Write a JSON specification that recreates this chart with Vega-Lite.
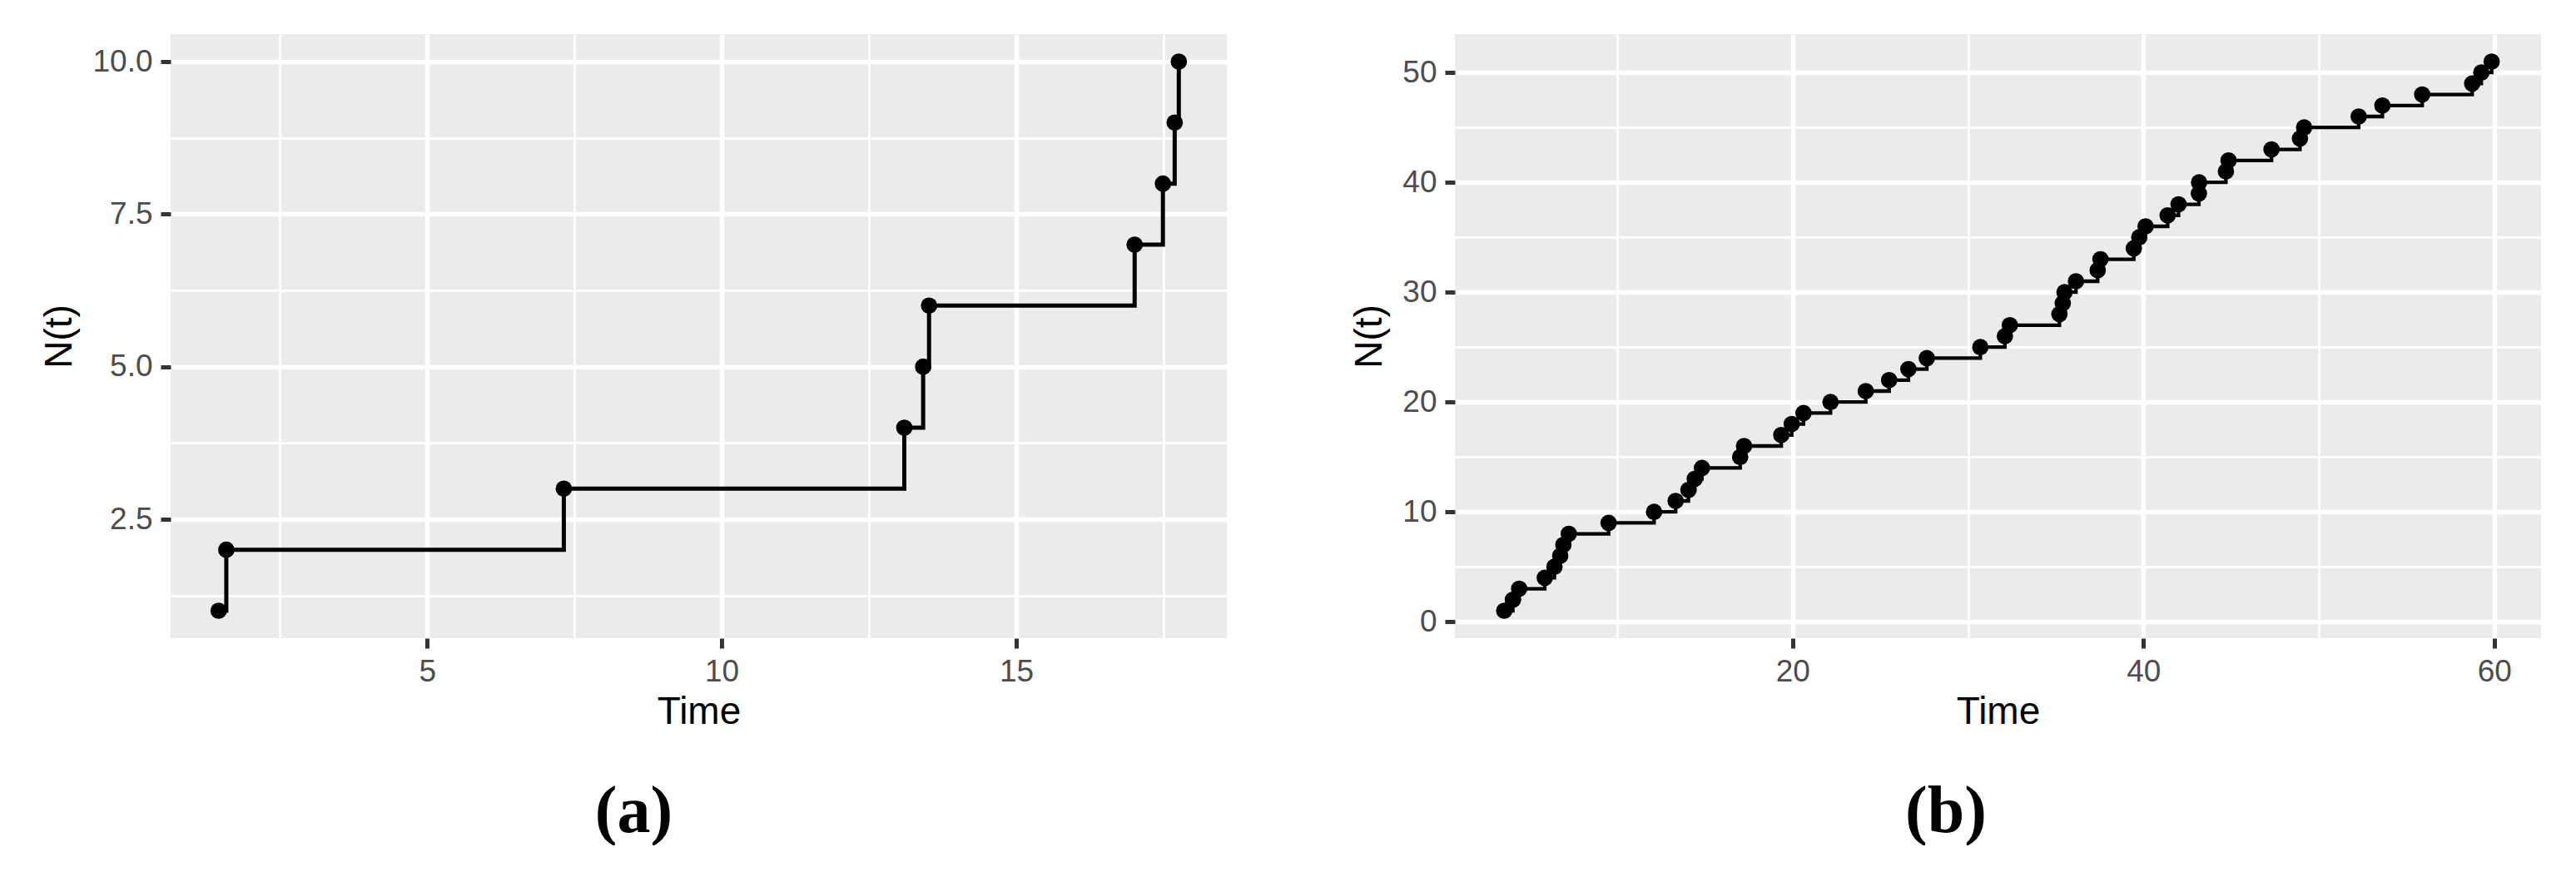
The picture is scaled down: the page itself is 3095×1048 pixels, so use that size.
{
  "$schema": "https://vega.github.io/schema/vega-lite/v6.json",
  "padding": {"left": 48, "top": 41, "right": 0, "bottom": 0},
  "background": "white",
  "datasets": {
    "a": [
      {"t": 1.46, "n": 1}, {"t": 1.59, "n": 2}, {"t": 7.32, "n": 3}, {"t": 13.10, "n": 4},
      {"t": 13.42, "n": 5}, {"t": 13.52, "n": 6}, {"t": 17.01, "n": 7}, {"t": 17.49, "n": 8},
      {"t": 17.69, "n": 9}, {"t": 17.76, "n": 10}
    ],
    "b": [
      {"t": 3.56, "n": 1}, {"t": 4.05, "n": 2}, {"t": 4.41, "n": 3}, {"t": 5.87, "n": 4},
      {"t": 6.42, "n": 5}, {"t": 6.75, "n": 6}, {"t": 6.93, "n": 7}, {"t": 7.24, "n": 8},
      {"t": 9.51, "n": 9}, {"t": 12.1, "n": 10}, {"t": 13.33, "n": 11}, {"t": 14.06, "n": 12},
      {"t": 14.42, "n": 13}, {"t": 14.83, "n": 14}, {"t": 17.01, "n": 15}, {"t": 17.23, "n": 16},
      {"t": 19.35, "n": 17}, {"t": 19.95, "n": 18}, {"t": 20.62, "n": 19}, {"t": 22.16, "n": 20},
      {"t": 24.17, "n": 21}, {"t": 25.5, "n": 22}, {"t": 26.6, "n": 23}, {"t": 27.65, "n": 24},
      {"t": 30.7, "n": 25}, {"t": 32.1, "n": 26}, {"t": 32.38, "n": 27}, {"t": 35.21, "n": 28},
      {"t": 35.4, "n": 29}, {"t": 35.5, "n": 30}, {"t": 36.15, "n": 31}, {"t": 37.39, "n": 32},
      {"t": 37.55, "n": 33}, {"t": 39.45, "n": 34}, {"t": 39.76, "n": 35}, {"t": 40.12, "n": 36},
      {"t": 41.38, "n": 37}, {"t": 42.0, "n": 38}, {"t": 43.16, "n": 39}, {"t": 43.17, "n": 40},
      {"t": 44.7, "n": 41}, {"t": 44.85, "n": 42}, {"t": 47.3, "n": 43}, {"t": 48.92, "n": 44},
      {"t": 49.16, "n": 45}, {"t": 52.27, "n": 46}, {"t": 53.62, "n": 47}, {"t": 55.89, "n": 48},
      {"t": 58.74, "n": 49}, {"t": 59.26, "n": 50}, {"t": 59.85, "n": 51}
    ]
  },
  "spacing": 148,
  "hconcat": [
    {
      "width": 1269,
      "height": 726,
      "data": {"name": "a"},
      "title": {"text": "(a)", "orient": "bottom", "anchor": "middle", "frame": "bounds", "font": "Liberation Serif", "fontSize": 80, "fontWeight": "bold", "color": "black", "offset": 59},
      "encoding": {
        "x": {
          "field": "t", "type": "quantitative",
          "scale": {"domain": [0.645, 18.575], "nice": false, "zero": false},
          "axis": {
            "title": "Time",
            "values": [2.5, 5, 7.5, 10, 12.5, 15, 17.5],
            "format": "d",
            "labelExpr": "datum.value % 5 === 0 ? datum.label : ''",
            "gridWidth": {"condition": {"test": "datum.value % 5 === 0", "value": 5.5}, "value": 2.8},
            "tickOpacity": {"condition": {"test": "datum.value % 5 === 0", "value": 1}, "value": 0}
          }
        },
        "y": {
          "field": "n", "type": "quantitative",
          "scale": {"domain": [0.55, 10.45], "nice": false, "zero": false},
          "axis": {
            "title": "N(t)",
            "values": [1.25, 2.5, 3.75, 5, 6.25, 7.5, 8.75, 10],
            "format": ".1f",
            "labelExpr": "datum.value % 2.5 === 0 ? datum.label : ''",
            "gridWidth": {"condition": {"test": "datum.value % 2.5 === 0", "value": 5.5}, "value": 2.8},
            "tickOpacity": {"condition": {"test": "datum.value % 2.5 === 0", "value": 1}, "value": 0}
          }
        }
      },
      "layer": [
        {"mark": {"type": "line", "interpolate": "step-after", "color": "black", "strokeWidth": 5}},
        {"mark": {"type": "circle", "color": "black", "size": 390, "opacity": 1}}
      ]
    },
    {
      "width": 1305,
      "height": 726,
      "data": {"name": "b"},
      "title": {"text": "(b)", "orient": "bottom", "anchor": "middle", "frame": "bounds", "font": "Liberation Serif", "fontSize": 80, "fontWeight": "bold", "color": "black", "offset": 59},
      "encoding": {
        "x": {
          "field": "t", "type": "quantitative",
          "scale": {"domain": [0.745, 62.665], "nice": false, "zero": false},
          "axis": {
            "title": "Time",
            "values": [10, 20, 30, 40, 50, 60],
            "format": "d",
            "labelExpr": "datum.value % 20 === 0 ? datum.label : ''",
            "gridWidth": {"condition": {"test": "datum.value % 20 === 0", "value": 5.5}, "value": 2.8},
            "tickOpacity": {"condition": {"test": "datum.value % 20 === 0", "value": 1}, "value": 0}
          }
        },
        "y": {
          "field": "n", "type": "quantitative",
          "scale": {"domain": [-1.5, 53.5], "nice": false, "zero": false},
          "axis": {
            "title": "N(t)",
            "values": [0, 5, 10, 15, 20, 25, 30, 35, 40, 45, 50],
            "format": "d",
            "labelExpr": "datum.value % 10 === 0 ? datum.label : ''",
            "gridWidth": {"condition": {"test": "datum.value % 10 === 0", "value": 5.5}, "value": 2.8},
            "tickOpacity": {"condition": {"test": "datum.value % 10 === 0", "value": 1}, "value": 0}
          }
        }
      },
      "layer": [
        {"mark": {"type": "line", "interpolate": "step-after", "color": "black", "strokeWidth": 4.3}},
        {"mark": {"type": "circle", "color": "black", "size": 390, "opacity": 1}}
      ]
    }
  ],
  "config": {
    "view": {"fill": "#EBEBEB", "stroke": null},
    "axis": {
      "domain": false,
      "gridColor": "white",
      "tickColor": "#333333",
      "tickSize": 12,
      "tickWidth": 5,
      "labelPadding": 10,
      "labelColor": "#4D4D4D",
      "labelFont": "Liberation Sans",
      "labelFontSize": 37,
      "labelOverlap": false,
      "labelFlush": false,
      "titleFont": "Liberation Sans",
      "titleFontSize": 46,
      "titleFontWeight": "normal",
      "titleColor": "black"
    },
    "axisX": {"titlePadding": 8},
    "axisY": {"titlePadding": 15}
  }
}
